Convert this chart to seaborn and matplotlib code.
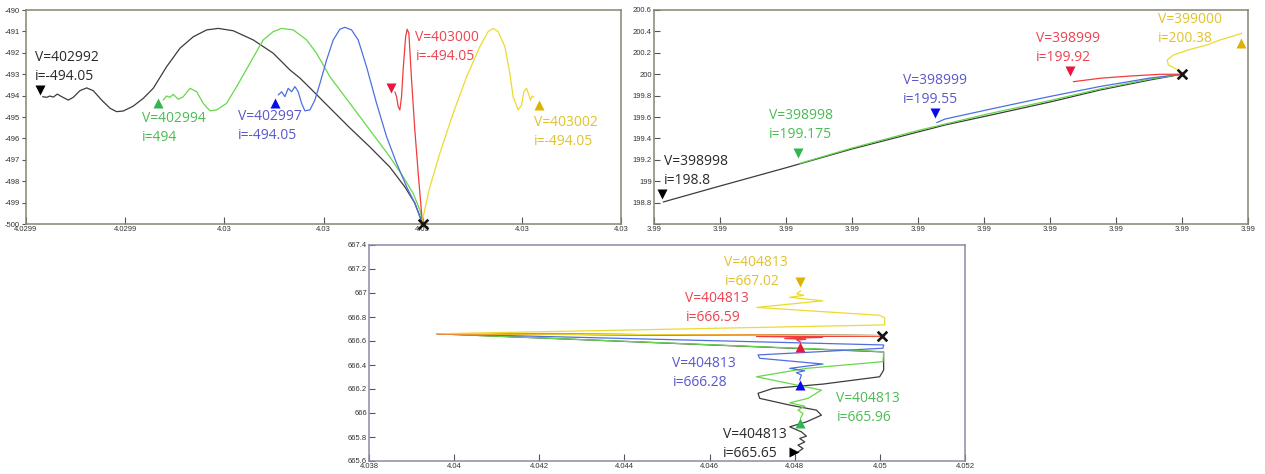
import numpy as np
import pandas as pd
import matplotlib
matplotlib.use("Agg")
import matplotlib.pyplot as plt
import seaborn as sns

# ------------------------------------------------------------------ data
SERIES = ["black", "green", "blue", "red", "yellow"]

# ---- panel 1 (x in tick-index units, labelled with the printed tick text)
P1_XTICKS = [0, 1, 2, 3, 4, 5, 6]
P1_XLABELS = ["4.0299", "4.0299", "4.03", "4.03", "4.03", "4.03", "4.03"]
P1_YTICKS = [-490, -491, -492, -493, -494, -495, -496, -497, -498, -499, -500]
P1_END = (4.0, -500.0)
P1_BLACK_X = [0.168, 0.209, 0.242, 0.275, 0.316, 0.360, 0.426, 0.477, 0.544, 0.612, 0.678, 0.763,
              0.847, 0.914, 0.981, 1.082, 1.182, 1.283, 1.418, 1.552, 1.687, 1.822, 1.939, 2.090,
              2.292, 2.493, 2.661, 2.762, 2.863, 3.065, 3.266, 3.468, 3.669, 3.821, 3.921, 3.992]
P1_BLACK_Y = [-494.05, -494.08, -494.02, -494.07, -493.93, -494.05, -494.21, -494.08, -493.77, -493.64,
              -493.77, -494.21, -494.59, -494.75, -494.72, -494.49, -494.13, -493.66, -492.65, -491.79,
              -491.25, -490.93, -490.86, -490.97, -491.40, -492.02, -492.80, -493.18, -493.64, -494.58,
              -495.51, -496.40, -497.34, -498.27, -499.02, -499.91]
P1_GREEN_X = [1.384, 1.418, 1.452, 1.485, 1.535, 1.586, 1.653, 1.721, 1.787, 1.855, 1.922, 2.023, 2.124,
              2.258, 2.392, 2.493, 2.578, 2.695, 2.830, 2.930, 3.065, 3.266, 3.468, 3.669, 3.803, 3.904,
              3.972, 3.995]
P1_GREEN_Y = [-494.21, -494.02, -494.08, -493.94, -494.17, -494.05, -493.66, -493.82, -494.36, -494.71,
              -494.67, -494.36, -493.58, -492.49, -491.40, -491.01, -490.86, -490.93, -491.40, -492.02,
              -493.12, -494.36, -495.61, -496.86, -497.79, -498.57, -499.35, -499.81]
P1_BLUE_X = [2.543, 2.578, 2.611, 2.644, 2.678, 2.712, 2.745, 2.779, 2.812, 2.863, 2.913, 2.964, 3.031,
             3.098, 3.165, 3.216, 3.283, 3.350, 3.434, 3.535, 3.636, 3.737, 3.838, 3.921, 3.972, 3.995]
P1_BLUE_Y = [-493.97, -493.82, -494.05, -493.66, -493.82, -493.58, -493.82, -494.36, -494.71, -494.67,
             -494.21, -493.43, -492.34, -491.40, -490.90, -490.81, -490.93, -491.40, -492.65, -494.36,
             -495.92, -497.16, -498.26, -499.03, -499.66, -499.95]
P1_RED_X = [3.720, 3.737, 3.753, 3.770, 3.787, 3.803, 3.828, 3.844, 3.861, 3.888, 3.921, 3.955, 3.989, 3.995]
P1_RED_Y = [-493.83, -494.05, -494.52, -494.67, -494.05, -492.80, -491.25, -490.90, -491.09, -493.27,
            -495.61, -497.63, -499.50, -499.86]
P1_YELLOW_X = [5.121, 5.104, 5.088, 5.071, 5.047, 5.020, 4.997, 4.963, 4.912, 4.879, 4.829, 4.761, 4.711,
               4.660, 4.577, 4.443, 4.307, 4.173, 4.073, 4.005]
P1_YELLOW_Y = [-494.08, -494.02, -494.21, -493.97, -493.66, -493.82, -494.44, -494.67, -494.05, -492.96,
               -491.71, -491.01, -490.86, -491.01, -491.71, -493.12, -494.83, -496.70, -498.26, -499.66]
P1_MARK_X = [0.141, 1.334, 2.510, 3.685, 5.175]
P1_MARK_Y = [-493.74, -494.36, -494.36, -493.64, -494.44]
P1_V = ["V=402992", "V=402994", "V=402997", "V=403000", "V=403002"]
P1_I = ["i=-494.05", "i=494", "i=-494.05", "i=-494.05", "i=-494.05"]

# ---- panel 2
P2_XTICKS = [0, 1, 2, 3, 4, 5, 6, 7, 8, 9]
P2_XLABELS = ["3.99"] * 10
P2_YTICKS = [198.6, 198.8, 199.0, 199.2, 199.4, 199.6, 199.8, 200.0, 200.2, 200.4, 200.6]
P2_YLABELS = ["", "198.8", "199", "199.2", "199.4", "199.6", "199.8", "200", "200.2", "200.4", "200.6"]
P2_END = (8.0, 200.0)
P2_BLACK_X = [0.141, 1.0, 1.985, 3.0, 4.0, 4.409, 5.242, 6.0, 6.758, 7.515]
P2_BLACK_Y = [198.806, 198.955, 199.123, 199.301, 199.460, 199.525, 199.637, 199.740, 199.852, 199.946]
P2_GREEN_X = [2.212, 3.0, 4.0, 5.015, 6.0, 6.758, 7.515]
P2_GREEN_Y = [199.167, 199.310, 199.474, 199.623, 199.754, 199.862, 199.955]
P2_BLUE_X = [4.283, 4.409, 5.242, 6.0, 6.758, 7.515]
P2_BLUE_Y = [199.547, 199.581, 199.693, 199.792, 199.885, 199.964]
P2_RED_X = [6.353, 6.758, 7.212, 7.667]
P2_RED_Y = [199.930, 199.962, 199.983, 199.999]
P2_YELLOW_X = [8.905, 8.777, 8.576, 8.374, 8.091, 7.868, 7.777, 7.792, 7.920]
P2_YELLOW_Y = [200.382, 200.357, 200.320, 200.273, 200.226, 200.179, 200.133, 200.086, 200.046]
P2_MARK_X = [0.117, 2.186, 4.258, 6.303, 8.894]
P2_MARK_Y = [198.878, 199.261, 199.635, 200.033, 200.287]
P2_V = ["V=398998", "V=398998", "V=398999", "V=398999", "V=399000"]
P2_I = ["i=198.8", "i=199.175", "i=199.55", "i=199.92", "i=200.38"]

# ---- panel 3
P3_XTICKS = [4.038, 4.040, 4.042, 4.044, 4.046, 4.048, 4.050, 4.052]
P3_YTICKS = [665.6, 665.8, 666.0, 666.2, 666.4, 666.6, 666.8, 667.0, 667.2, 667.4]
P3_TURN = (4.0396, 666.660)
P3_END = (4.05005, 666.645)
P3_BLACK_X = [4.048077, 4.048194, 4.048077, 4.048235, 4.048117, 4.048275, 4.048157, 4.047883, 4.048275,
              4.048627, 4.048509, 4.047883, 4.047178, 4.047138, 4.047491, 4.048665, 4.049995, 4.050089,
              4.050089]
P3_BLACK_Y = [665.676, 665.704, 665.732, 665.759, 665.788, 665.807, 665.843, 665.885, 665.926, 665.982,
              666.024, 666.066, 666.122, 666.164, 666.205, 666.241, 666.302, 666.358, 666.509]
P3_GREEN_X = [4.048134, 4.048195, 4.048077, 4.048235, 4.047883, 4.048312, 4.048627, 4.047101, 4.048275,
              4.050073, 4.050089]
P3_GREEN_Y = [665.955, 665.996, 666.024, 666.057, 666.085, 666.122, 666.191, 666.302, 666.372, 666.428,
              666.511]
P3_BLUE_X = [4.048117, 4.048157, 4.048040, 4.048235, 4.047883, 4.048665, 4.047178, 4.047138, 4.048587,
             4.050073, 4.050089]
P3_BLUE_Y = [666.275, 666.316, 666.336, 666.352, 666.372, 666.408, 666.456, 666.484, 666.511, 666.540,
             666.567]
P3_RED_X = [4.048134, 4.048047, 4.048258, 4.047765, 4.048657, 4.047108, 4.050089]
P3_RED_Y = [666.592, 666.609, 666.613, 666.621, 666.630, 666.638, 666.642]
P3_YELLOW_X = [4.048134, 4.048047, 4.048211, 4.047883, 4.048657, 4.047108, 4.049995, 4.050113, 4.050113]
P3_YELLOW_Y = [667.018, 666.993, 666.981, 666.964, 666.935, 666.880, 666.814, 666.793, 666.734]
P3_MARK_X = [4.047976, 4.048134, 4.048134, 4.048134, 4.048134]
P3_MARK_Y = [665.676, 665.918, 666.235, 666.553, 667.088]
P3_V = ["V=404813"] * 5
P3_I = ["i=665.65", "i=665.96", "i=666.28", "i=666.59", "i=667.02"]

# ------------------------------------------------------------------ style
LINE_COLORS = {"black": "#3c3c3c", "green": "#66d84a", "blue": "#4f6fe0", "red": "#f03c3c", "yellow": "#ecda30"}
MARK_COLORS = {"black": "#000000", "green": "#2eb84e", "blue": "#0a0af0", "red": "#e8173f", "yellow": "#dcb300"}
TEXT_COLORS = {"black": "#2a2a2a", "green": "#4cbc54", "blue": "#5a58cc", "red": "#ec4452", "yellow": "#e2c22c"}

P1_SHAPES = ["v", "^", "^", "v", "^"]
P2_SHAPES = ["v", "v", "v", "v", "^"]
P3_SHAPES = [">", "^", "^", "^", "v"]
# label offsets in pixels (dx, dy of first line centre) relative to marker
P1_OFFS = [(-5, 33), (-16, -15), (-37, -13), (24, 50), (-5, -17)]
P2_OFFS = [(2, 33), (-29, 38), (-32, 33), (-34, 32), (-83, 24)]
P3_OFFS = [(-71, 17), (36, 24), (-128, 21), (-115, 48), (-76, 20)]
LINE_GAP = 19

sns.set_style("white")
plt.rcParams["font.family"] = ["Open Sans", "DejaVu Sans"]

W, H = 1265, 474
fig = plt.figure(figsize=(W / 100, H / 100), dpi=100)
ax1 = fig.add_axes([26 / W, (H - 224) / H, 595 / W, 214 / H])
ax2 = fig.add_axes([654 / W, (H - 224) / H, 594 / W, 214 / H])
ax3 = fig.add_axes([369 / W, (H - 461) / H, 596 / W, 216 / H])


def build_frame(paths, end, turn=None):
    rows = []
    for name in SERIES:
        xs, ys = paths[name]
        xs = list(xs)
        ys = list(ys)
        if turn is not None:
            xs.append(turn[0]); ys.append(turn[1])
        xs.append(end[0]); ys.append(end[1])
        for k, (x, y) in enumerate(zip(xs, ys)):
            rows.append({"series": name, "order": k, "x": x, "y": y})
    return pd.DataFrame(rows)


def draw_panel(ax, df, end, mx, my, shapes, vlab, ilab, offs, spine_col):
    sns.lineplot(data=df, x="x", y="y", hue="series", hue_order=SERIES, palette=LINE_COLORS,
                 sort=False, estimator=None, linewidth=0.9, legend=False, ax=ax)
    for k, name in enumerate(SERIES):
        sns.scatterplot(x=[mx[k]], y=[my[k]], marker=shapes[k], color=MARK_COLORS[name],
                        s=52, linewidth=0, ax=ax, zorder=5, legend=False)
        dx, dy = offs[k]
        ax.annotate(vlab[k], (mx[k], my[k]), xytext=(dx, dy), textcoords="offset pixels",
                    ha="left", va="center", fontsize=10, color=TEXT_COLORS[name], zorder=6)
        ax.annotate(ilab[k], (mx[k], my[k]), xytext=(dx, dy - LINE_GAP), textcoords="offset pixels",
                    ha="left", va="center", fontsize=10, color=TEXT_COLORS[name], zorder=6)
    # end point cross
    pts = sns.scatterplot(x=[end[0]], y=[end[1]], marker="x", color="#151515", s=48,
                          linewidth=1.9, ax=ax, zorder=7, legend=False)
    for coll in ax.collections:
        coll.set_clip_on(False)
    ax.set_xlabel("")
    ax.set_ylabel("")
    for sp in ax.spines.values():
        sp.set_color(spine_col)
        sp.set_linewidth(1.1)
        sp.set_visible(True)
    ax.set_facecolor("white")


# panel 1
df1 = build_frame({"black": (P1_BLACK_X, P1_BLACK_Y), "green": (P1_GREEN_X, P1_GREEN_Y),
                   "blue": (P1_BLUE_X, P1_BLUE_Y), "red": (P1_RED_X, P1_RED_Y),
                   "yellow": (P1_YELLOW_X, P1_YELLOW_Y)}, P1_END)
draw_panel(ax1, df1, P1_END, P1_MARK_X, P1_MARK_Y, P1_SHAPES, P1_V, P1_I, P1_OFFS, "#85856f")
ax1.set_xlim(0, 6)
ax1.set_ylim(-500, -490)
ax1.set_xticks(P1_XTICKS)
ax1.set_xticklabels(P1_XLABELS)
ax1.set_yticks(P1_YTICKS)
ax1.set_yticklabels([str(v) for v in P1_YTICKS])

# panel 2
df2 = build_frame({"black": (P2_BLACK_X, P2_BLACK_Y), "green": (P2_GREEN_X, P2_GREEN_Y),
                   "blue": (P2_BLUE_X, P2_BLUE_Y), "red": (P2_RED_X, P2_RED_Y),
                   "yellow": (P2_YELLOW_X, P2_YELLOW_Y)}, P2_END)
draw_panel(ax2, df2, P2_END, P2_MARK_X, P2_MARK_Y, P2_SHAPES, P2_V, P2_I, P2_OFFS, "#85856f")
ax2.set_xlim(0, 9)
ax2.set_ylim(198.6, 200.6)
ax2.set_xticks(P2_XTICKS)
ax2.set_xticklabels(P2_XLABELS)
ax2.set_yticks(P2_YTICKS)
ax2.set_yticklabels(P2_YLABELS)

# panel 3
df3 = build_frame({"black": (P3_BLACK_X, P3_BLACK_Y), "green": (P3_GREEN_X, P3_GREEN_Y),
                   "blue": (P3_BLUE_X, P3_BLUE_Y), "red": (P3_RED_X, P3_RED_Y),
                   "yellow": (P3_YELLOW_X, P3_YELLOW_Y)}, P3_END, P3_TURN)
draw_panel(ax3, df3, P3_END, P3_MARK_X, P3_MARK_Y, P3_SHAPES, P3_V, P3_I, P3_OFFS, "#8c8ca6")
ax3.set_xlim(4.038, 4.052)
ax3.set_ylim(665.6, 667.4)
ax3.set_xticks(P3_XTICKS)
ax3.set_xticklabels([f"{v:g}" for v in P3_XTICKS])
ax3.set_yticks(P3_YTICKS)
ax3.set_yticklabels([f"{v:g}" for v in P3_YTICKS])

for ax in (ax1, ax2, ax3):
    ax.tick_params(axis="x", direction="in", length=5, width=0.8, pad=1.5, labelsize=5.5,
                   colors="#555555", labelcolor="#333333", bottom=True)
    ax.tick_params(axis="y", direction="in", length=4, width=0.8, pad=1.5, labelsize=5.5,
                   colors="#555555", labelcolor="#333333", left=True)
    for lab in ax.get_xticklabels() + ax.get_yticklabels():
        lab.set_fontfamily(["Liberation Sans", "DejaVu Sans"])
ax1.tick_params(axis="y", direction="out", length=3, pad=1.5)

fig.savefig("out.png", dpi=100, facecolor="white")
